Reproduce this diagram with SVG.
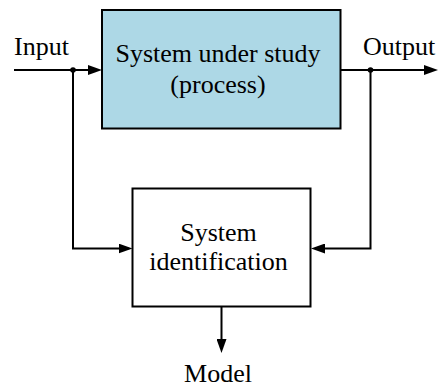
<svg xmlns="http://www.w3.org/2000/svg" width="438" height="387" viewBox="0 0 438 387">
<style>
text{font-family:"Liberation Serif","Times New Roman",serif;font-size:26px;fill:#000}
.box{stroke:#000;stroke-width:2}
.c{text-anchor:middle}
.wire{fill:none;stroke:#000;stroke-width:2}
</style>
<defs>
<marker id="arr" markerUnits="userSpaceOnUse" markerWidth="14" markerHeight="10" refX="10" refY="5" orient="auto">
<path d="M0,0 L14,5 L0,10 z" fill="#000"/>
</marker>
</defs>
<rect width="438" height="387" fill="#fff"/>
<g id="process">
<rect class="box" x="102" y="10" width="238.5" height="118.5" fill="#ADD8E6"/>
<text class="c" x="218" y="62">System under study</text>
<text class="c" x="218" y="93">(process)</text>
</g>
<g id="sysid">
<rect class="box" x="132.5" y="188.5" width="178" height="118" fill="#fff"/>
<text class="c" x="218.5" y="241">System</text>
<text class="c" x="218.5" y="270">identification</text>
</g>
<g id="labels">
<text x="14" y="55">Input</text>
<text x="363" y="55">Output</text>
<text class="c" x="218" y="382">Model</text>
</g>
<g id="connectors">
<path class="wire" d="M14,70 H98" marker-end="url(#arr)"/>
<path class="wire" d="M73,70 V248.5 H128.5" marker-end="url(#arr)"/>
<path class="wire" d="M341,70 H434" marker-end="url(#arr)"/>
<path class="wire" d="M370.5,70 V248.5 H315" marker-end="url(#arr)"/>
<path class="wire" d="M221.5,307 V349" marker-end="url(#arr)"/>
<circle cx="73" cy="70" r="2.8" fill="#000"/>
<circle cx="370.5" cy="70" r="2.8" fill="#000"/>
</g>
</svg>
